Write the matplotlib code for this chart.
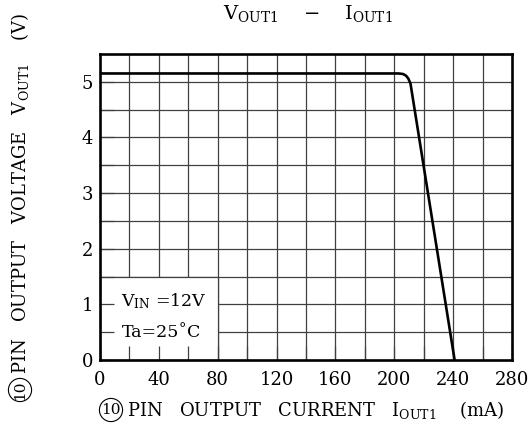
import numpy as np
import matplotlib
matplotlib.use('Agg')
import matplotlib.pyplot as plt
from matplotlib.patches import Rectangle

plt.rcParams['font.family'] = ['DejaVu Serif', 'DejaVu Sans']
plt.rcParams['mathtext.fontset'] = 'dejavuserif'

# V_OUT1 - I_OUT1 curve
i_out = [0, 100, 203, 206, 208, 209.5, 211, 241]
v_out = [5.15, 5.15, 5.15, 5.14, 5.11, 5.06, 4.97, 0]

x_ticks = [0, 40, 80, 120, 160, 200, 240, 280]
y_ticks = [0, 1, 2, 3, 4, 5]
x_grid = np.arange(20, 280, 20)
y_grid = np.arange(0.5, 5.5, 0.5)

fig = plt.figure(figsize=(5.31, 4.42), dpi=100)
ax = fig.add_axes([100/531, 1 - 360/442, 412/531, 306/442])
ax.set_xlim(0, 280)
ax.set_ylim(0, 5.5)

# grid drawn by hand so the condition box can hide it but not the ticks
for x in x_grid:
    ax.axvline(x, color='#404040', lw=0.9, zorder=1)
for y in y_grid:
    ax.axhline(y, color='#404040', lw=0.9, zorder=1)
ax.add_patch(Rectangle((0, 0), 80, 1.5, facecolor='white', edgecolor='#404040', lw=0.9, zorder=1.5))

ax.plot(i_out, v_out, color='black', lw=1.9, zorder=3, solid_capstyle='butt')

ax.set_xticks(x_ticks)
ax.set_yticks(y_ticks)
ax.set_xticks(x_grid, minor=True)
ax.set_yticks(y_grid, minor=True)
ax.tick_params(which='both', direction='in', length=10, width=0.9, color='#404040',
               labelsize=13)
ax.tick_params(axis='x', pad=8)
ax.tick_params(axis='y', pad=5)
for s in ax.spines.values():
    s.set_linewidth(1.9)

ax.text(14, 1.05, r'$\mathregular{V_{IN}}$ =12V', fontsize=12.5, va='center', zorder=4)
ax.text(15, 0.5, 'Ta=25˚C', fontsize=12.5, va='center', zorder=4)

# title
fig.text(308/531, 1 - 19/442, r'$\mathregular{V_{OUT1}}$    $-$    $\mathregular{I_{OUT1}}$',
         fontsize=14, ha='center', va='baseline')

# axis labels with the circled pin number
circ = dict(boxstyle='circle,pad=0.12', fc='none', ec='black', lw=0.8)
fig.text(111/531, 1 - 410/442, '10', fontsize=11, ha='center', va='center', bbox=circ)
fig.text(127/531, 1 - 410/442, r'PIN   OUTPUT   CURRENT   $\mathregular{I_{OUT1}}$    (mA)',
         fontsize=13, ha='left', va='center')

fig.text(20/531, 1 - 390/442, '10', fontsize=11, ha='center', va='center', rotation=90, bbox=circ)
fig.text(20/531, 1 - 374/442, r'PIN   OUTPUT   VOLTAGE   $\mathregular{V_{OUT1}}$    (V)',
         fontsize=13, ha='center', va='bottom', rotation=90)

fig.savefig('out.png', dpi=100)
